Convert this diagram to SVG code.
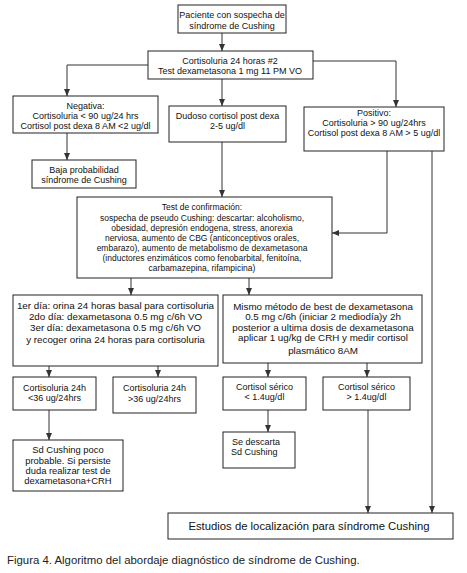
<svg xmlns="http://www.w3.org/2000/svg" width="467" height="573" viewBox="0 0 467 573">
<style>
.b{fill:#fff;stroke:#222;stroke-width:1}
.t{font-family:"Liberation Sans",Arial,sans-serif;font-size:9px;fill:#111;text-anchor:middle}
.s{font-size:8.5px}
.l{font-size:9.8px}
.c{fill:none;stroke:#333;stroke-width:1}
</style>
<defs>
<marker id="a" markerUnits="userSpaceOnUse" markerWidth="7" markerHeight="6" viewBox="0 0 7 6" refX="7" refY="3" orient="auto">
<path d="M0,0 L7,3 L0,6 z" fill="#333"/>
</marker>
</defs>
<rect width="467" height="573" fill="#fff"/>
<g id="connectors" class="c" marker-end="url(#a)">
<path d="M222,33 V51"/>
<path d="M222,79 V106"/>
<path d="M148,65 H67 V96"/>
<path d="M313,61 H396 V107"/>
<path d="M67,133 V160"/>
<path d="M222,142 V197"/>
<path d="M387,151 V233 H332"/>
<path d="M432,151 V513"/>
<path d="M131,278 V295"/>
<path d="M249,278 V295"/>
<path d="M49,366 V377"/>
<path d="M158,366 V377"/>
<path d="M268,363 V377"/>
<path d="M367,363 V377"/>
<path d="M49,410 V440"/>
<path d="M268,410 V432"/>
<path d="M368,410 V513"/>
</g>
<g id="n1"><rect class="b" x="178" y="5" width="108" height="28"/>
<text class="t" x="232" y="18">Paciente con sospecha de</text>
<text class="t" x="232" y="29">síndrome de Cushing</text></g>
<g id="n2"><rect class="b" x="148" y="51" width="165" height="28"/>
<text class="t" x="230" y="64">Cortisoluria 24 horas #2</text>
<text class="t" x="230" y="74">Test dexametasona 1 mg 11 PM VO</text></g>
<g id="n3"><rect class="b" x="13" y="96" width="145" height="37"/>
<text class="t" x="85.5" y="109">Negativa:</text>
<text class="t" x="85.5" y="119">Cortisoluria &lt; 90 ug/24 hrs</text>
<text class="t" x="85.5" y="129">Cortisol post dexa 8 AM &lt;2 ug/dl</text></g>
<g id="n4"><rect class="b" x="169" y="106" width="117" height="36"/>
<text class="t" x="227.5" y="119">Dudoso cortisol post dexa</text>
<text class="t" x="227.5" y="129">2-5 ug/dl</text></g>
<g id="n5"><rect class="b" x="304" y="107" width="140" height="44"/>
<text class="t" x="374" y="116">Positivo:</text>
<text class="t" x="374" y="126">Cortisoluria &gt; 90 ug/24hrs</text>
<text class="t" x="374" y="136">Cortisol post dexa 8 AM &gt; 5 ug/dl</text></g>
<g id="n6"><rect class="b" x="32" y="160" width="104" height="28"/>
<text class="t" x="84" y="173">Baja probabilidad</text>
<text class="t" x="84" y="183">síndrome de Cushing</text></g>
<g id="n7"><rect class="b" x="77" y="197" width="255" height="81"/>
<text class="t s" x="202" y="210">Test de confirmación:</text>
<text class="t s" x="202" y="221">sospecha de pseudo Cushing: descartar: alcoholismo,</text>
<text class="t s" x="202" y="231">obesidad, depresión endogena, stress, anorexia</text>
<text class="t s" x="202" y="241">nerviosa, aumento de CBG (anticonceptivos orales,</text>
<text class="t s" x="202" y="251">embarazo), aumento de metabolismo de dexametasona</text>
<text class="t s" x="202" y="261">(inductores enzimáticos como fenobarbital, fenitoína,</text>
<text class="t s" x="202" y="271">carbamazepina, rifampicina)</text></g>
<g id="n8"><rect class="b" x="13" y="295" width="205" height="71"/>
<text class="t l" x="115.5" y="309">1er día: orina 24 horas basal para cortisoluria</text>
<text class="t l" x="115.5" y="320">2do día: dexametasona 0.5 mg c/6h VO</text>
<text class="t l" x="115.5" y="331">3er día: dexametasona 0.5 mg c/6h VO</text>
<text class="t l" x="115.5" y="343">y recoger orina 24 horas para cortisoluria</text></g>
<g id="n9"><rect class="b" x="223" y="295" width="199" height="68"/>
<text class="t l" x="323" y="310">Mismo método de best de dexametasona</text>
<text class="t l" x="323" y="320">0.5 mg c/6h (iniciar 2 mediodía)y 2h</text>
<text class="t l" x="323" y="331">posterior a ultima dosis de dexametasona</text>
<text class="t l" x="323" y="341">aplicar 1 ug/kg de CRH y medir cortisol</text>
<text class="t l" x="323" y="354">plasmático 8AM</text></g>
<g id="n10"><rect class="b" x="13" y="377" width="83" height="33"/>
<text class="t" x="54.5" y="391">Cortisoluria 24h</text>
<text class="t" x="54.5" y="401">&lt;36 ug/24hrs</text></g>
<g id="n11"><rect class="b" x="113" y="377" width="83" height="36"/>
<text class="t" x="154.5" y="391">Cortisoluria 24h</text>
<text class="t" x="154.5" y="402">&gt;36 ug/24hrs</text></g>
<g id="n12"><rect class="b" x="223" y="377" width="83" height="33"/>
<text class="t" x="264.5" y="390">Cortisol sérico</text>
<text class="t" x="264.5" y="400">&lt; 1.4ug/dl</text></g>
<g id="n13"><rect class="b" x="323" y="377" width="87" height="33"/>
<text class="t" x="366.5" y="390">Cortisol sérico</text>
<text class="t" x="366.5" y="400">&gt; 1.4ug/dl</text></g>
<g id="n14"><rect class="b" x="13" y="440" width="110" height="51"/>
<text class="t" x="68" y="453" style="font-size:9.4px">Sd Cushing poco</text>
<text class="t" x="68" y="464" style="font-size:9.4px">probable. Si persiste</text>
<text class="t" x="68" y="474" style="font-size:9.4px">duda realizar test de</text>
<text class="t" x="68" y="484" style="font-size:9.4px">dexametasona+CRH</text></g>
<g id="n15"><rect class="b" x="223" y="432" width="72" height="36"/>
<text class="t" x="232" y="445" style="text-anchor:start">Se descarta</text>
<text class="t" x="231" y="455" style="text-anchor:start">Sd Cushing</text></g>
<g id="n16"><rect class="b" x="168" y="513" width="285" height="26"/>
<text class="t" x="309" y="530" style="font-size:11.3px">Estudios de localización para síndrome Cushing</text></g>
<text x="7" y="564" style="font-family:'Liberation Sans',Arial,sans-serif;font-size:11.4px;fill:#222">Figura 4. Algoritmo del abordaje diagnóstico de síndrome de  Cushing.</text>
</svg>
